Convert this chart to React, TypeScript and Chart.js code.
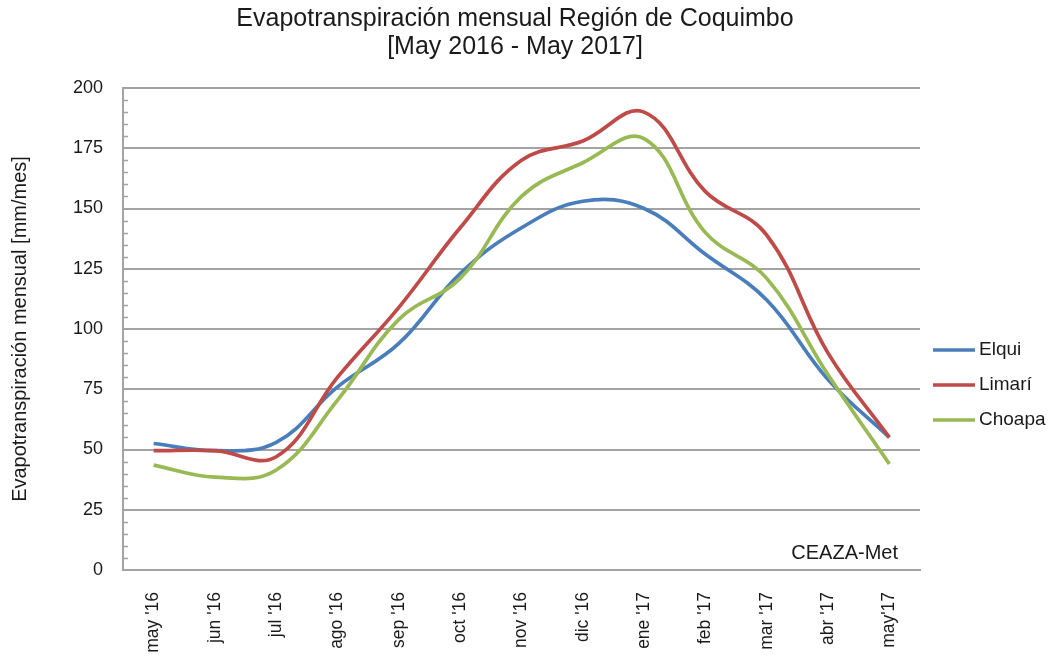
import React, { useEffect, useRef } from "react";
import { Chart, registerables } from "chart.js";

Chart.register(...registerables);

const categories = ["may '16", "jun '16", "jul '16", "ago '16", "sep '16", "oct '16", "nov '16", "dic '16", "ene '17", "feb '17", "mar '17", "abr '17", "may'17"];
const elqui = [52.5, 49.5, 53, 76, 94, 123, 142, 153, 150, 131, 112, 79, 55];
const limari = [49.5, 49.5, 47, 80, 109, 142, 170, 178, 190, 157, 139, 90, 55];
const choapa = [43.5, 38.5, 41.5, 70.5, 104, 121, 155, 169, 179, 140, 121, 81, 44];
const seriesNames = ["Elqui", "Limarí", "Choapa"];
const seriesColors = ["#4A7EBB", "#BE4B48", "#98B954"];
const titleLines = ["Evapotranspiración mensual Región de Coquimbo", "[May 2016 - May 2017]"];
const yTitle = "Evapotranspiración mensual [mm/mes]";
const sourceLabel = "CEAZA-Met";

const FONT = "'Liberation Sans', Arial, sans-serif";
const GRID = "#a3a3a3";

const decorPlugin = {
  id: "decor",
  beforeDatasetsDraw(chart: any) {
    const { ctx, chartArea } = chart;
    const y = chart.scales.y;
    ctx.save();
    ctx.strokeStyle = GRID;
    ctx.lineWidth = 1.5;
    for (let v = 5; v < 200; v += 5) {
      if (v % 25 === 0) continue;
      const py = Math.round(y.getPixelForValue(v)) + 0.5;
      ctx.beginPath();
      ctx.moveTo(chartArea.left, py);
      ctx.lineTo(chartArea.left + 5, py);
      ctx.stroke();
    }
    ctx.restore();
  },
  afterDraw(chart: any) {
    const { ctx, chartArea } = chart;
    ctx.save();
    // title
    ctx.fillStyle = "#1a1a1a";
    ctx.font = `25px ${FONT}`;
    ctx.textAlign = "center";
    ctx.textBaseline = "middle";
    ctx.fillText(titleLines[0], 515, 19);
    ctx.fillText(titleLines[1], 515, 47);
    // source label
    ctx.font = `20px ${FONT}`;
    ctx.textAlign = "right";
    ctx.fillText(sourceLabel, chartArea.right - 22, chartArea.bottom - 17);
    // legend
    const cy = (chartArea.top + chartArea.bottom) / 2 + 21;
    chart.data.datasets.forEach((ds: any, i: number) => {
      const yy = cy + i * 35;
      ctx.strokeStyle = ds.borderColor;
      ctx.lineWidth = 3.5;
      ctx.beginPath();
      ctx.moveTo(chartArea.right + 13, yy);
      ctx.lineTo(chartArea.right + 55, yy);
      ctx.stroke();
      ctx.fillStyle = "#1a1a1a";
      ctx.font = `19px ${FONT}`;
      ctx.textAlign = "left";
      ctx.fillText(ds.label, chartArea.right + 59, yy);
    });
    ctx.restore();
  },
};

export default function App() {
  const ref = useRef<HTMLCanvasElement>(null);
  useEffect(() => {
    if (!ref.current) return;
    const values = [elqui, limari, choapa];
    const chart = new Chart(ref.current, {
      type: "line",
      data: {
        labels: categories,
        datasets: values.map((d, i) => ({
          label: seriesNames[i],
          data: d,
          borderColor: seriesColors[i],
          backgroundColor: seriesColors[i],
          borderWidth: 3.7,
          pointRadius: 0,
          tension: 0.4,
          fill: false,
          order: 3 - i,
        })),
      },
      options: {
        responsive: false,
        animation: false,
        layout: { padding: { top: 88, right: 134, bottom: 0, left: 4 } },
        plugins: {
          legend: { display: false },
          title: { display: false },
          tooltip: { enabled: false },
        },
        scales: {
          x: {
            type: "category",
            offset: true,
            grid: { display: false, drawTicks: false },
            border: { display: true, color: GRID, width: 2 },
            ticks: {
              minRotation: 90,
              maxRotation: 90,
              autoSkip: false,
              padding: 22,
              color: "#1a1a1a",
              font: { size: 17.5, family: FONT },
            },
            afterFit(scale: any) {
              scale.height = 94;
            },
          },
          y: {
            min: 0,
            max: 200,
            grid: { color: GRID, lineWidth: 2, drawTicks: false },
            border: { display: true, color: GRID, width: 2 },
            ticks: {
              stepSize: 25,
              padding: 20,
              color: "#1a1a1a",
              font: { size: 18, family: FONT },
            },
            title: {
              display: true,
              text: yTitle,
              color: "#1a1a1a",
              font: { size: 20, family: FONT },
              padding: { top: 4, bottom: 4 },
            },
            afterFit(scale: any) {
              scale.width = 119;
            },
          },
        },
      },
      plugins: [decorPlugin],
    });
    return () => chart.destroy();
  }, []);
  return (
    <div style={{ position: "absolute", left: 0, top: 0, width: 1054, height: 664, background: "#fff" }}>
      <canvas ref={ref} width={1054} height={664} />
    </div>
  );
}
